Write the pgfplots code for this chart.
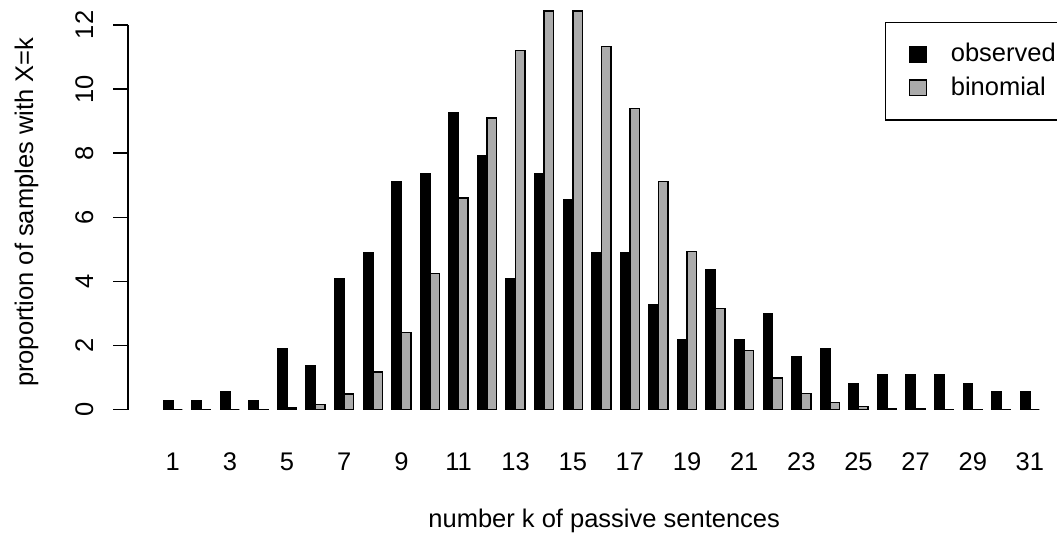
\documentclass[border=0pt]{standalone}
\usepackage{fontspec}
\setmainfont{Liberation Sans}
\usepackage{pgfplots}
\pgfplotsset{compat=1.18}
\definecolor{bgray}{HTML}{ABABAB}
\begin{document}
\fontsize{12.24}{14.7}\selectfont
\begin{tikzpicture}
\begin{axis}[
  scale only axis,
  width=454.2pt, height=208.8pt,
  xmin=-0.56, xmax=32.56, ymin=-0.627, ymax=12.94,
  axis line style={draw=none},
  clip=false,
  ybar, bar width=0.33333,
  xtick={1,3,...,31},
  ytick={0,2,...,12},
  xtick style={draw=none},
  ytick style={draw=black, line width=0.7pt},
  ytick pos=left, xtick pos=bottom,
  tick align=outside, major tick length=7.1pt,
  /pgf/number format/assume math mode=true,
  tick label style={font=\fontsize{12.24}{14.7}\selectfont},
  xticklabel style={anchor=base, yshift=-12.2pt},
  yticklabel style={xshift=-9.7pt, rotate=90, anchor=base},
  xlabel={number k of passive sentences},
  ylabel={proportion of samples with X=k},
  xlabel style={at={(axis description cs:0.503,-0.2235)}, anchor=base, font=\fontsize{12.24}{14.7}\selectfont},
  ylabel style={at={(axis description cs:-0.1006,0.5)}, anchor=base, font=\fontsize{12.24}{14.7}\selectfont},
  legend style={at={(axis description cs:0.7997,0.9382)}, anchor=north west,
    draw=black, line width=0.7pt, inner xsep=11pt, inner ysep=10pt,
    column sep=11.3pt, row sep=5.4pt,
    font=\fontsize{12.24}{14.7}\selectfont,
    nodes={inner sep=0pt}},
  legend cell align=left,
  legend image code/.code={\draw[#1, draw=black, line width=0.7pt] (0pt,-3.75pt) rectangle (8.3pt,3.75pt);},
]
\addplot[fill=black, draw=black, line width=0.7pt, bar shift=-0.16667] coordinates {
(1,0.27) (2,0.27) (3,0.55) (4,0.27) (5,1.91) (6,1.36) (7,4.10) (8,4.91) (9,7.10) (10,7.37)
(11,9.27) (12,7.92) (13,4.10) (14,7.37) (15,6.55) (16,4.91) (17,4.91) (18,3.28) (19,2.18) (20,4.37)
(21,2.18) (22,3.00) (23,1.64) (24,1.91) (25,0.82) (26,1.09) (27,1.09) (28,1.09) (29,0.82) (30,0.55) (31,0.55)
};
\addplot[fill=bgray, draw=black, line width=0.7pt, bar shift=0.16667] coordinates {
(1,0) (2,0) (3,0) (4,0.01) (5,0.05) (6,0.16) (7,0.49) (8,1.18) (9,2.40) (10,4.24)
(11,6.60) (12,9.10) (13,11.20) (14,12.43) (15,12.44) (16,11.32) (17,9.40) (18,7.12) (19,4.94) (20,3.15)
(21,1.85) (22,0.99) (23,0.50) (24,0.22) (25,0.10) (26,0.04) (27,0.015) (28,0.005) (29,0.002) (30,0) (31,0)
};
\legend{observed, binomial}
\draw[line width=0.7pt] (axis cs:-0.56,0) -- (axis cs:-0.56,12);
\coordinate (SW) at (rel axis cs:0,0);
\end{axis}
\pgfresetboundingbox
\path[use as bounding box] ([shift={(-61.54pt,-50.98pt)}]SW) rectangle ([shift={(445.82pt,206.30pt)}]SW);
\end{tikzpicture}
\end{document}
